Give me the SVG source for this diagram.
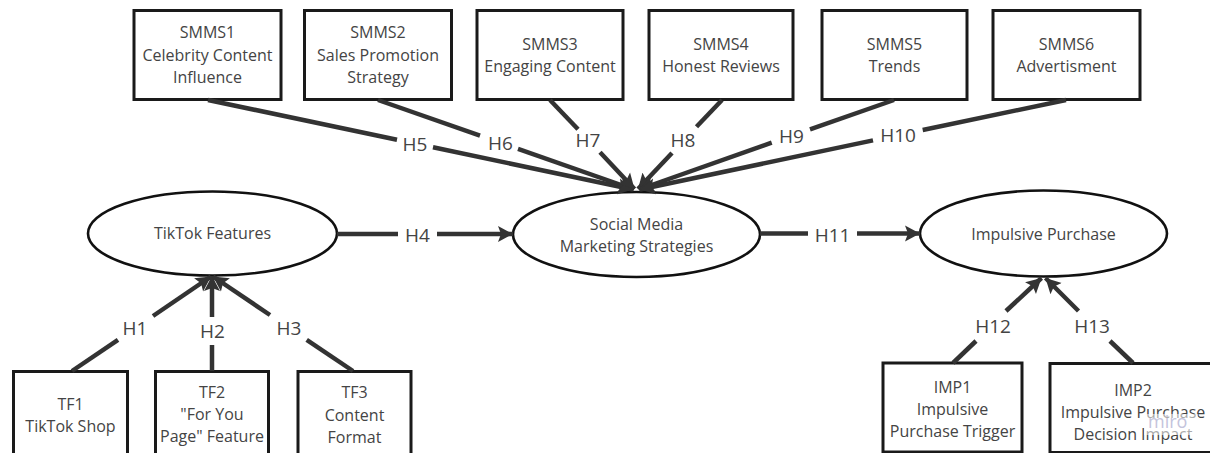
<svg xmlns="http://www.w3.org/2000/svg" width="1210" height="453" viewBox="0 0 1210 453">
  <style>
    .box { fill: #ffffff; stroke: #1a1a1a; stroke-width: 3; }
    .oval { fill: #ffffff; stroke: #111111; stroke-width: 2.6; }
    .txt { font-family: "Open Sans", "Liberation Sans", sans-serif; font-size: 16px; fill: #444444; text-anchor: middle; }
    .edge { fill: none; stroke: #333333; stroke-width: 4.5; }
    .lbl { font-family: "Open Sans", "Liberation Sans", sans-serif; font-size: 19px; fill: #444444; text-anchor: middle; }
  </style>
  <defs>
    <marker id="arrow" markerUnits="userSpaceOnUse" markerWidth="18" markerHeight="18" refX="15" refY="9" orient="auto">
      <path d="M0,1 L15,9 L0,17 L3,9 z" fill="#333333"/>
    </marker>
  </defs>
  <rect width="1210" height="453" fill="#ffffff"/>

  <!-- indicator boxes: social media marketing strategies -->
  <g id="smms1">
    <rect class="box" x="134" y="10.5" width="147" height="89"/>
    <text class="txt" x="207.5" y="38">SMMS1</text>
    <text class="txt" x="207.5" y="60.5">Celebrity Content</text>
    <text class="txt" x="207.5" y="83">Influence</text>
  </g>
  <g id="smms2">
    <rect class="box" x="304.5" y="10.5" width="147" height="89"/>
    <text class="txt" x="378" y="38">SMMS2</text>
    <text class="txt" x="378" y="60.5">Sales Promotion</text>
    <text class="txt" x="378" y="83">Strategy</text>
  </g>
  <g id="smms3">
    <rect class="box" x="477" y="10.5" width="146" height="89"/>
    <text class="txt" x="550" y="49.5">SMMS3</text>
    <text class="txt" x="550" y="72">Engaging Content</text>
  </g>
  <g id="smms4">
    <rect class="box" x="649" y="10.5" width="144" height="89"/>
    <text class="txt" x="721" y="49.5">SMMS4</text>
    <text class="txt" x="721" y="72">Honest Reviews</text>
  </g>
  <g id="smms5">
    <rect class="box" x="822" y="10.5" width="145" height="89"/>
    <text class="txt" x="894.5" y="49.5">SMMS5</text>
    <text class="txt" x="894.5" y="72">Trends</text>
  </g>
  <g id="smms6">
    <rect class="box" x="993" y="10.5" width="147" height="89"/>
    <text class="txt" x="1066.5" y="49.5">SMMS6</text>
    <text class="txt" x="1066.5" y="72">Advertisment</text>
  </g>

  <!-- constructs -->
  <g id="tiktok-features">
    <ellipse class="oval" cx="212.5" cy="233.5" rx="124.5" ry="42"/>
    <text class="txt" x="212.5" y="239">TikTok Features</text>
  </g>
  <g id="smm-strategies">
    <ellipse class="oval" cx="636.5" cy="234.5" rx="123.5" ry="42.5"/>
    <text class="txt" x="636.5" y="230">Social Media</text>
    <text class="txt" x="636.5" y="252">Marketing Strategies</text>
  </g>
  <g id="impulsive-purchase">
    <ellipse class="oval" cx="1043.5" cy="233.5" rx="123.5" ry="43"/>
    <text class="txt" x="1043.5" y="239.5">Impulsive Purchase</text>
  </g>

  <!-- indicator boxes: TikTok features -->
  <g id="tf1">
    <rect class="box" x="13.5" y="371.5" width="114" height="89"/>
    <text class="txt" x="70.5" y="410">TF1</text>
    <text class="txt" x="70.5" y="432">TikTok Shop</text>
  </g>
  <g id="tf2">
    <rect class="box" x="155.5" y="371.5" width="113" height="89"/>
    <text class="txt" x="212" y="398">TF2</text>
    <text class="txt" x="212" y="420">"For You</text>
    <text class="txt" x="212" y="442">Page" Feature</text>
  </g>
  <g id="tf3">
    <rect class="box" x="298" y="371.5" width="113" height="89"/>
    <text class="txt" x="354.5" y="398">TF3</text>
    <text class="txt" x="354.5" y="420.5">Content</text>
    <text class="txt" x="354.5" y="442.5">Format</text>
  </g>

  <!-- indicator boxes: impulsive purchase -->
  <g id="imp1">
    <rect class="box" x="883" y="363" width="139" height="89"/>
    <text class="txt" x="952.5" y="393">IMP1</text>
    <text class="txt" x="952.5" y="415">Impulsive</text>
    <text class="txt" x="952.5" y="437">Purchase Trigger</text>
  </g>
  <g id="imp2">
    <rect class="box" x="1050" y="363.5" width="168" height="89"/>
    <text class="txt" x="1133" y="396">IMP2</text>
    <text class="txt" x="1133" y="418">Impulsive Purchase</text>
    <text class="txt" x="1133" y="440">Decision Impact</text>
  </g>

  <!-- hypothesis paths, each split around its label -->
  <g id="connectors">
    <!-- H1..H3 into TikTok Features -->
    <path class="edge" d="M72,371 L118,339.8"/>
    <path class="edge" d="M153,316 L211,276.5" marker-end="url(#arrow)"/>
    <path class="edge" d="M212,371 L212,345"/>
    <path class="edge" d="M212,317 L212,276" marker-end="url(#arrow)"/>
    <path class="edge" d="M353,371 L306.7,339.8"/>
    <path class="edge" d="M270,315 L213,276.5" marker-end="url(#arrow)"/>

    <!-- H4, H11 along the main row -->
    <path class="edge" d="M337,234 L398,234"/>
    <path class="edge" d="M437,234 L513,234" marker-end="url(#arrow)"/>
    <path class="edge" d="M760,233.5 L808,233.5"/>
    <path class="edge" d="M857,233.5 L920,233.5" marker-end="url(#arrow)"/>

    <!-- H5..H10 into Social Media Marketing Strategies -->
    <path class="edge" d="M208,100 L397,139.7"/>
    <path class="edge" d="M433,147.3 L633,189.5" marker-end="url(#arrow)"/>
    <path class="edge" d="M378,100 L480,135.6"/>
    <path class="edge" d="M518,148.8 L634,189.5" marker-end="url(#arrow)"/>
    <path class="edge" d="M550,100 L578,129.3"/>
    <path class="edge" d="M600,152.3 L634.5,189" marker-end="url(#arrow)"/>
    <path class="edge" d="M722,100 L696.5,126.7"/>
    <path class="edge" d="M672,153 L638,189" marker-end="url(#arrow)"/>
    <path class="edge" d="M894,100 L810,129.3"/>
    <path class="edge" d="M771.7,142.7 L639,189.5" marker-end="url(#arrow)"/>
    <path class="edge" d="M1066,100 L922.7,130"/>
    <path class="edge" d="M873,140.4 L640,189.5" marker-end="url(#arrow)"/>

    <!-- H12, H13 into Impulsive Purchase -->
    <path class="edge" d="M953,363 L976,341"/>
    <path class="edge" d="M1006,311 L1041.5,278" marker-end="url(#arrow)"/>
    <path class="edge" d="M1133,363 L1110,341"/>
    <path class="edge" d="M1078.5,311 L1045.5,278" marker-end="url(#arrow)"/>

    <!-- hypothesis labels -->
    <text class="lbl" x="135" y="335">H1</text>
    <text class="lbl" x="212.5" y="338">H2</text>
    <text class="lbl" x="289" y="335">H3</text>
    <text class="lbl" x="417.5" y="241.5">H4</text>
    <text class="lbl" x="415" y="150.5">H5</text>
    <text class="lbl" x="500.5" y="150">H6</text>
    <text class="lbl" x="588" y="147">H7</text>
    <text class="lbl" x="683" y="147">H8</text>
    <text class="lbl" x="791.5" y="142.5">H9</text>
    <text class="lbl" x="898" y="142">H10</text>
    <text class="lbl" x="832.5" y="242">H11</text>
    <text class="lbl" x="993" y="333">H12</text>
    <text class="lbl" x="1092" y="333">H13</text>
  </g>

  <!-- board watermark -->
  <g id="watermark">
    <rect x="1144" y="414" width="54" height="21" fill="#ffffff" fill-opacity="0.55"/>
    <text x="1148" y="428" font-family="Open Sans, Liberation Sans, sans-serif" font-size="18" fill="#c4c4dc">miro</text>
  </g>
</svg>
